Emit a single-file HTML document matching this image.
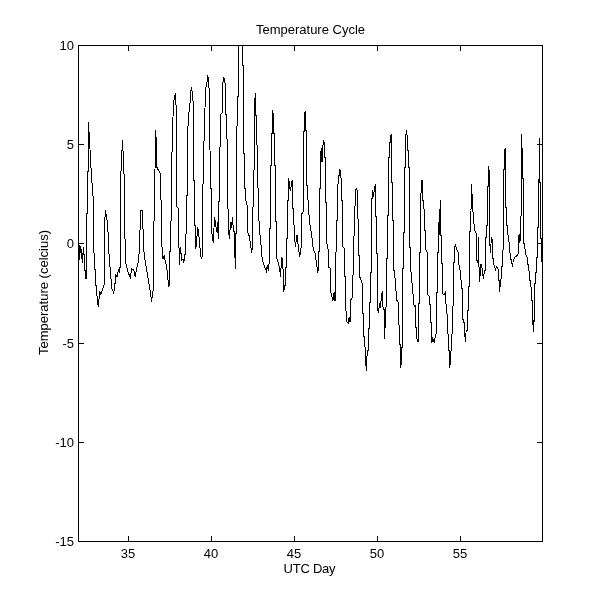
<!DOCTYPE html>
<html><head><meta charset="utf-8"><title>Temperature Cycle</title>
<style>
html,body{margin:0;padding:0;background:#fff}
svg{display:block}
text{font-family:"Liberation Sans",Arial,Helvetica,sans-serif;font-size:13px;fill:#000}
</style></head>
<body>
<svg width="600" height="610" viewBox="0 0 600 610">
<defs><clipPath id="c"><rect x="78" y="45" width="465" height="497"/></clipPath></defs>
<rect width="600" height="610" fill="#fff"/>
<g shape-rendering="crispEdges">
<rect x="78.5" y="45.5" width="464" height="496" fill="none" stroke="#000" stroke-width="1"/>
<path d="M128.5 541.5V536M128.5 45.5V51M211.5 541.5V536M211.5 45.5V51M294.5 541.5V536M294.5 45.5V51M377.5 541.5V536M377.5 45.5V51M460.5 541.5V536M460.5 45.5V51M78.5 45.5H84M542.5 45.5H537M78.5 144.5H84M542.5 144.5H537M78.5 243.5H84M542.5 243.5H537M78.5 343.5H84M542.5 343.5H537M78.5 442.5H84M542.5 442.5H537M78.5 541.5H84M542.5 541.5H537" fill="none" stroke="#000" stroke-width="1"/>
<polyline clip-path="url(#c)" points="79.5,245 79.5,260 80.5,246 81.5,252 82.3,263 83.5,247 83.5,254 84.5,255 84.5,270 85.5,271 85.5,278 86.5,278 86.5,213 87.5,213 87.5,171 88.5,171 88.5,122 89.5,140 91.3,173 93.3,200 93.8,250 96.3,290 98.3,307 99.7,292 100.8,294 102,291 103.3,287 104.5,283 104.5,230 105.3,210 107,220 108.7,240 108.7,250 111.7,288 113.7,293 114.7,287 115.8,275 117,277 118.3,270 119.5,272 120.3,265 120.5,230 120.8,175 122.5,140 123.7,165 124.7,193 124.7,230 125.8,263 128.3,273 130.3,277 131.7,269 133.7,270 135.3,277 136.7,268 138.3,262 139.7,247 140,230 141,210 142.5,210 143.3,240 144.2,255 146.3,268 149.2,285 151.7,302 152.5,292 153.8,290 153.8,230 154.2,213 155,170 155.5,130 156.7,147 156.7,167 160,173 160.8,180 161.3,227 162,247 163,259 164.2,256 166.7,267 168.7,286 169.7,285 169.7,252 170.8,250 170.8,222 171.5,220 171.5,165 172.5,140 173.3,103 174.7,97 175.5,93 176.3,112 176.3,140 176.7,207 178,208 178,240 179.2,250 179.2,265 180.5,247 181.7,260 183,259 183.7,263 184.7,255 185.8,253 185.8,235 186.5,233 186.5,196 187.5,195 187.5,140 188.3,118 190,103 190.5,95 191.3,87 192.5,93 193.3,105 193.3,180 194.7,181 194.7,225 195.8,227 195.8,249 197.8,227 199.2,238 200.3,252 201.3,259 202.5,255 202.5,185 203.3,183 203.3,142 204.7,140 205,108 205.8,88 207,82 207.5,75 208.7,80 209.2,92 209.7,95 209.7,140 210,150 210.8,188 211.7,190 211.7,232 213.3,243 214.5,217 216.7,232 217.5,222 218.3,239 218.3,203 219.7,200 219.7,150 220.8,140 220.8,114 222.3,113 222.3,95 223.3,77 224.7,80 225.3,85 225.3,113 226.3,115 226.3,137 227.5,140 227.5,208 228.7,210 228.7,232 229.5,239 230.5,222 231.3,228 232.5,217 233.3,230 234.2,232 234.7,245 235.3,269 235.8,233 236.7,233 236.7,140 237,127 237.8,97 238.7,95 238.7,30 242.5,30 242.5,65 243.7,65 243.7,153 244.7,155 244.7,188 245.8,190 245.8,200 247,205 247.8,207 247.8,232 249.2,236 250.3,243 251.7,253 252,250 252,208 253,207 253,172 254.2,170 254.5,140 254.3,104 255.5,93 255.5,115 256.3,115 256.3,140 257,145 257,187 258.3,188 258.3,220 259.5,222 259.5,232 260.8,240 261.5,255 263.5,264 266.3,271 267.3,265 268.3,271 269.2,262 269.2,230 270.3,228 270.3,165 271.3,165 271.3,133 272.5,133 272.5,110 273.3,115 273.3,133 274.5,134 274.5,165 275.3,166 275.3,220 276.3,222 276.3,257 278.3,263 279.7,268 280.5,277 281.7,257 282.8,262 283.7,292 284.7,286 285.3,285 285.3,267 286.2,267 286.2,238 287.2,238 287.2,202 288.3,200 288.7,178 290.3,191 292.2,180 292.8,190 292.8,205 294.2,228 295.3,247 297,235 298.3,247 299.7,257 300.8,250 301.7,243 301.7,213 303,213 303.3,190 303.3,132 304.5,131 304.5,113 305.3,111.7 305.8,113 305.8,130 306.7,130 306.7,185 307.8,186 307.8,197 309.5,222 311.7,235 313.3,250 315,253 316.7,265 318,273 318.3,251 319.2,251 319.2,190 320.3,188 320.3,157 321.3,148 322,162 323.3,140 324.5,143 324.5,157 325.5,158 325.5,202 326.7,203 326.7,243 328.3,250 328.3,267 330,268 330,292 331.3,293 332.8,301 334.2,292 335,301 335.5,300 335.5,253 336.3,251 336.3,220 337.5,220 337.5,185 338.7,183 338.7,178 339.7,170 340.8,172 340.8,178 341.7,179 341.7,200 342.8,202 342.8,247 344.2,248 344.2,275 345.3,277 345.3,310 346.7,312 346.7,322 348.3,323 349.2,317 350,322 350.8,312 350.8,300 352,298 352,277 353,275 353,237 354.7,235 354.7,207 355.5,205 355.5,192 356.3,188 357.5,192 357.5,218 358.7,220 358.7,255 359.7,257 359.7,277 361.2,280 362.5,285 362.5,313 363.7,313 363.7,333 365,347 366.3,371 367.2,352 368.3,350 368.3,328 369.5,328 369.5,303 370.5,302 370.3,272 371.3,272 371.3,199 372.5,198 372.5,190 373.3,197 374.7,188 375.5,184 375.5,216 376.7,217 376.7,253 377.8,253 377.8,310 378.3,313 379.7,303 380.5,308 381.3,297 382.5,291 383,307 384.2,310 384.2,339 385,328 385,308 386.2,307 386.2,258 387.2,258 387.2,215 388.3,215 388.3,158 389.5,157 389.5,143 390.5,142 390.5,136 391.3,134 391.3,182 392.5,183 392.5,220 393.7,221 393.7,268 395,278 396.7,300 398,302 398,323 399.2,325 399.2,343 400.3,345 400.3,357 400.8,368 401.7,357 401.7,348 402.5,347 402.5,269 403.3,268 403.3,233 404.5,232 404.5,168 405.3,167 405.3,142 406.3,130 407.5,138 407.5,150 408.3,151 408.3,167 409.5,168 409.5,247 410.8,248 410.8,270 412,283 413.3,297 414.2,307 415.3,305 415.3,327 416.7,327 416.7,338 418,342 418.7,337 418.7,303 419.5,303 419.5,252 420.3,252 420.3,194 421.3,193 421.3,182 422.2,180 422.5,200 423.3,201 423.3,208 424.7,210 424.7,230 425.8,231 425.8,250 427,252 427,268 427.8,270 427.8,295 429.2,296 429.2,303 430.3,305 430.3,322 431.7,322 431.7,343 432.8,338 434.2,342 435.3,337 436.3,333 436.3,293 437.5,292 437.5,252 438.5,252 438.5,222 439.5,235 439.5,218 440.5,200 440.5,235 441.5,236 441.5,263 442.5,264 442.5,293 443.8,295 445,293 445,300 446.2,305 446.2,313 447.5,315 447.5,333 448.7,335 448.7,350 449.7,352 449.7,368 450.5,360 450.5,352 451.7,350 451.7,335 452.5,333 452.5,307 453.3,305 453.3,262 454.5,262 454.5,247 455.5,245 456.7,249 458,252 458.7,263 460,270 461.3,283 461.3,288 462.5,288 462.5,318 464.2,323 465.3,342 466.2,330 467.2,330 467.2,310 468,310 468,287 469.5,286 469.5,232 470.5,231 470,210 471.3,209 471.3,184 472.2,197 472.2,210 473.3,213 473.3,218 474.7,230 475.8,233 476.5,234 476.5,259 477.5,262 478.5,262 478.5,237 478.5,262 479.5,271 479.5,282 481,264 482.2,269 483.3,279 484.5,270 485.5,270 485.5,238 486.7,237 486.7,225 487.3,225 487.3,186 488.3,186 488.3,166 489.2,171 489.2,245 490.3,246 490.3,253 491.5,237 492.5,241 492.5,258 493.7,258 493.7,264 495,268 495,271 496.5,267 498.2,269 498.8,271 498.8,280 499.5,280 499.5,292 500.5,282 501.3,277 501.3,266 502.3,266 502.3,251 503.3,250 503.3,170 504.5,169 504.5,150 505.3,148 505.3,207 506.7,208 506.7,225 507.8,226 507.8,233 509.2,243 510.3,257 511.7,262 512.5,267 513.3,260 515,257 516.7,256 518,254 518,236 519.2,235 520,243 520.3,217 521.3,216 521.3,134 522.2,151 522.2,178 523.3,179 523.3,243 524.5,244 524.5,248 525.8,250 525.8,255 527,257 527,263 528.3,265 528.3,270 529.7,272 529.7,280 530.8,282 530.8,287 531.7,288 531.7,300 532.5,300 532.5,325 533.3,320 533.3,332 534.2,320 534.2,285 535.3,283 535.3,272 536.3,272 536.3,257 537.5,257 537.5,227 538.3,227 538.3,179 539.5,179 539.5,138 539.5,182 540.5,182 540.5,238 541.3,238 541.3,260 542.3,262" fill="none" stroke="#000" stroke-width="1" stroke-linejoin="miter"/>
</g>
<g>
<text x="128" y="558" text-anchor="middle">35</text>
<text x="211" y="558" text-anchor="middle">40</text>
<text x="294" y="558" text-anchor="middle">45</text>
<text x="377" y="558" text-anchor="middle">50</text>
<text x="460" y="558" text-anchor="middle">55</text>
<text x="74" y="50.2" text-anchor="end">10</text>
<text x="74" y="149.2" text-anchor="end">5</text>
<text x="74" y="248.2" text-anchor="end">0</text>
<text x="74" y="348.2" text-anchor="end">-5</text>
<text x="74" y="447.2" text-anchor="end">-10</text>
<text x="74" y="546.2" text-anchor="end">-15</text>
<text x="310.5" y="33.6" text-anchor="middle">Temperature Cycle</text>
<text x="309.6" y="573" text-anchor="middle" textLength="52" lengthAdjust="spacing">UTC Day</text>
<text transform="translate(48.2,292.5) rotate(-90)" text-anchor="middle">Temperature (celcius)</text>
</g>
</svg>
</body></html>
